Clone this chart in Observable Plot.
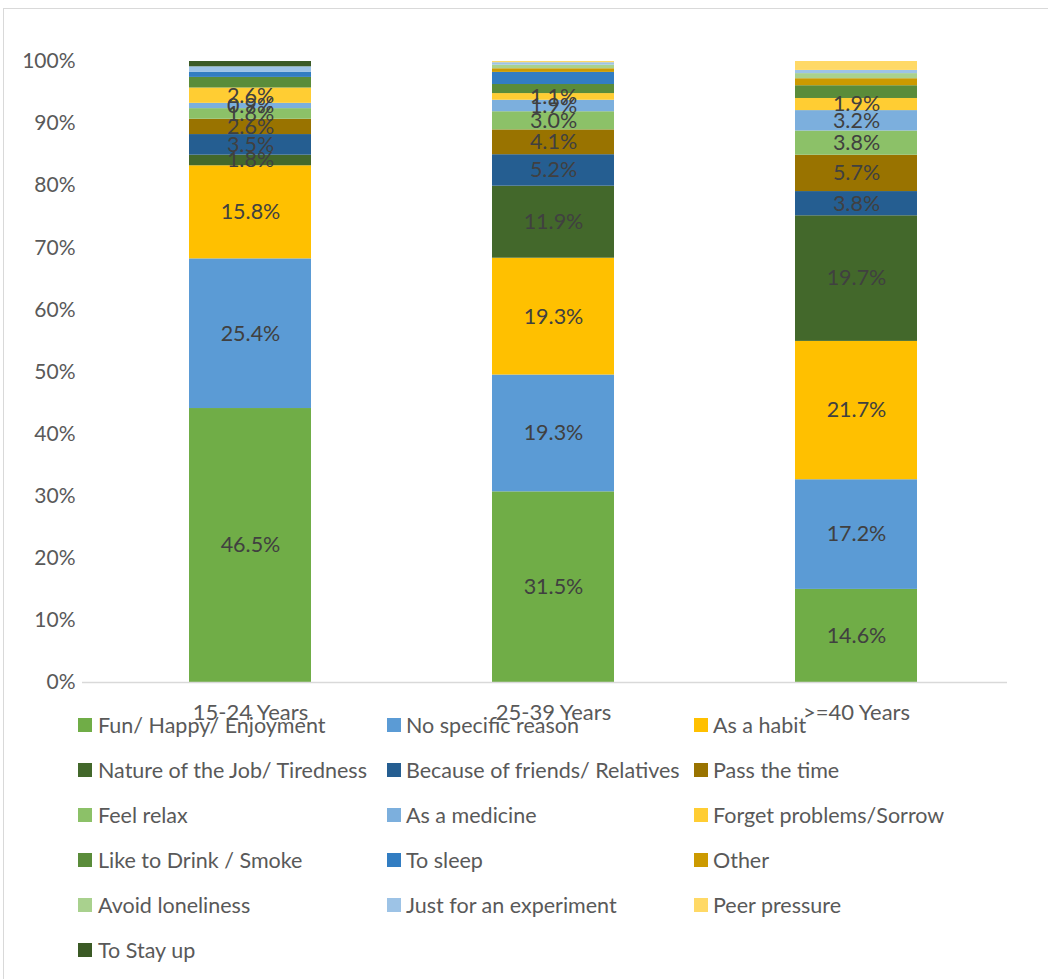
<!DOCTYPE html>
<html><head><meta charset="utf-8">
<script src="https://cdn.jsdelivr.net/npm/d3@7"></script>
<script src="https://cdn.jsdelivr.net/npm/@observablehq/plot@0.6"></script>
<style>
body{margin:0;background:#fff;font-family:Lato,sans-serif;}
#wrap{position:relative;width:1048px;height:979px;overflow:hidden;background:#fff;}
#frame{position:absolute;left:3px;top:8px;width:1200px;height:1200px;border-left:1px solid #d9d9d9;border-top:1px solid #d9d9d9;}
#chart{position:absolute;left:0;top:0;}
.leg{position:absolute;font-size:21.5px;color:#595959;white-space:nowrap;line-height:26px;}
.sw{position:absolute;width:14px;height:14px;}
</style></head><body>
<div id="wrap"><div id="frame"></div><div id="chart"></div><div id="legend"></div></div>
<script>
const categories = ["15-24 Years", "25-39 Years", ">=40 Years"];
const seriesNames = [
  "Fun/ Happy/ Enjoyment", "No specific reason", "As a habit",
  "Nature of the Job/ Tiredness", "Because of friends/ Relatives", "Pass the time",
  "Feel relax", "As a medicine", "Forget problems/Sorrow",
  "Like to Drink / Smoke", "To sleep", "Other",
  "Avoid loneliness", "Just for an experiment", "Peer pressure",
  "To Stay up"
];
const colors = [
  "#70AD47", "#5B9BD5", "#FFC000",
  "#43682B", "#255E91", "#997300",
  "#8CC168", "#7CAFDD", "#FFCD33",
  "#5A8C3A", "#327DC2", "#CC9A00",
  "#A9D18E", "#9DC3E6", "#FFD966",
  "#3B5A25"
];
// values per age group (percent of respondents), in series order
const values15to24 = [46.5, 25.4, 15.8, 1.8, 3.5, 2.6, 1.8, 0.9, 2.6, 1.8, 0.9, 0.0, 0.0, 0.9, 0.0, 0.9];
const values25to39 = [31.5, 19.3, 19.3, 11.9, 5.2, 4.1, 3.0, 1.9, 1.1, 1.5, 2.0, 0.6, 0.6, 0.4, 0.2, 0.0];
const values40plus = [14.6, 17.2, 21.7, 19.7, 3.8, 5.7, 3.8, 3.2, 1.9, 2.0, 0.0, 1.1, 0.8, 0.5, 1.4, 0.0];
const labeledCount = 9;
const yTicks = [0, 0.1, 0.2, 0.3, 0.4, 0.5, 0.6, 0.7, 0.8, 0.9, 1.0];

const groups = [values15to24, values25to39, values40plus];
const data = [];
groups.forEach((vals, ci) => {
  vals.forEach((v, si) => {
    data.push({cat: categories[ci], series: seriesNames[si], value: v, labeled: si < labeledCount});
  });
});

const chart = Plot.plot({
  width: 1048, height: 979,
  marginLeft: 82, marginRight: 41, marginTop: 61, marginBottom: 297,
  style: {fontFamily: "Lato, sans-serif", fontSize: "21px", color: "#595959", background: "transparent", overflow: "visible"},
  x: {domain: categories, range: [98.5, 1007.5], paddingInner: 0.597, paddingOuter: 0.2985, label: null},
  y: {domain: [0, 1], label: null},
  color: {domain: seriesNames, range: colors},
  marks: [
    Plot.barY(data, Plot.stackY({x: "cat", y: "value", fill: "series", offset: "normalize"})),
    Plot.text(data, Plot.stackY({
      x: "cat", y: "value", z: "series", offset: "normalize",
      text: d => d.labeled ? d.value.toFixed(1) + "%" : "",
      fill: "#404040", fontSize: 21.5
    })),
    Plot.ruleY([0], {stroke: "#d9d9d9", strokeWidth: 1.5}),
    Plot.axisY({ticks: yTicks, tickFormat: d3.format(".0%"), tickSize: 0, tickPadding: 7, label: null, fontSize: 21}),
    Plot.axisX({tickSize: 0, tickPadding: 22, label: null, fontSize: 22})
  ]
});
document.getElementById("chart").appendChild(chart);

const legend = document.getElementById("legend");
const swX = [78, 387, 694], txX = [98, 406, 713];
seriesNames.forEach((name, i) => {
  const col = i % 3, row = Math.floor(i / 3);
  const cy = 725 + row * 45;
  const sw = document.createElement("div");
  sw.className = "sw";
  sw.style.left = swX[col] + "px";
  sw.style.top = (cy - 7) + "px";
  sw.style.background = colors[i];
  legend.appendChild(sw);
  const t = document.createElement("div");
  t.className = "leg";
  t.style.left = txX[col] + "px";
  t.style.top = (cy - 13) + "px";
  t.textContent = name;
  legend.appendChild(t);
});
</script>
</body></html>
